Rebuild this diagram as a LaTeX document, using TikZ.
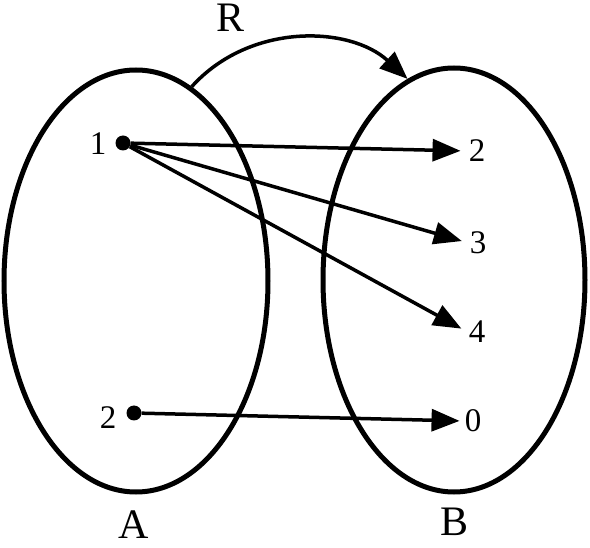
\documentclass[tikz,border=0pt]{standalone}
\usepackage{fontspec}
\setmainfont{Liberation Serif}
\usetikzlibrary{arrows.meta,shapes.geometric}
\begin{document}
\begin{tikzpicture}[x=1pt,y=-1pt]
\tikzset{
    set/.style={ellipse, draw, line width=5pt, inner sep=0pt},
    map/.style={line width=3.5pt, -{Triangle[length=28pt,width=22pt]}},
    elem/.style={circle, fill, inner sep=0pt, minimum size=15pt},
    num/.style={inner sep=1pt, font=\fontsize{33}{33}\selectfont},
    lab/.style={inner sep=0pt, font=\fontsize{42}{42}\selectfont}}
\useasboundingbox (0,0) rectangle (590,548);

\node[set, minimum width=264pt, minimum height=422pt] (setA) at (136,281) {};
\node[set, minimum width=262pt, minimum height=424pt] (setB) at (454,280) {};

\node[lab] (labA) at (134,525) {A};
\node[lab] (labB) at (455,522) {B};
\node[lab] (labR) at (231,18) {R};

\node[elem] (a1) at (123,143) {};
\node[elem] (a2) at (134,413) {};
\node[num] (n1) at (98,144) {1};
\node[num] (n2) at (108,418) {2};

\node[num] (b2) at (477,151) {2};
\node[num] (b3) at (478,243) {3};
\node[num] (b4) at (477,332) {4};
\node[num] (b0) at (473,421) {0};

\draw[map, shorten >=7pt] (a1) -- (b2.west);
\draw[map, shorten >=7pt] (a1) -- (b3.west);
\draw[map, shorten >=7pt] (a1) -- (b4.west);
\draw[map, shorten >=4pt] (a2) -- (b0.west);

\draw[map] (setA.74) .. controls (250,22) and (350,26) .. (setB.103);
\end{tikzpicture}
\end{document}
